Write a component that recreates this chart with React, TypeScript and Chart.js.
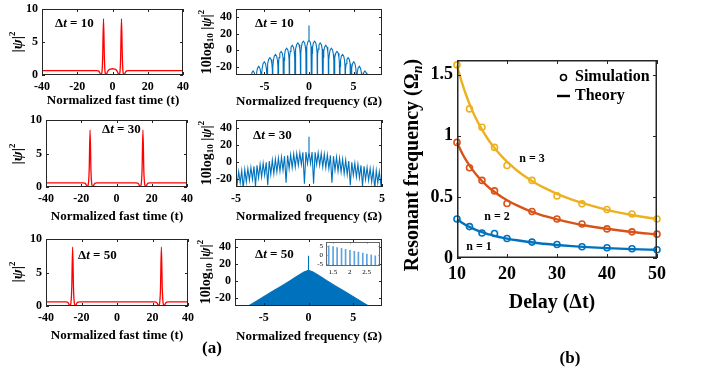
import React, { useEffect, useRef } from "react";
import { Chart, registerables } from "chart.js";

Chart.register(...registerables);

const SERIF = "'Liberation Serif', 'Times New Roman', Times, serif";
const B = (s: number) => `bold ${s}px ${SERIF}`;
const BI = (s: number) => `italic bold ${s}px ${SERIF}`;

const BLUE = "#0072BD";
const ORANGE = "#D95319";
const YELLOW = "#EDB120";
const RED = "#FF0000";
const STEM = "#5fa2dd";

// ---------- (a) time domain |psi|^2 ----------
const T10_X = [-40, -9, -8, -7.3, -6.6, -6.0, -5.6, -5.1, -4.6, -4.2, -3.6, -2.9, -2, -1, 0, 1, 2, 2.9, 3.6, 4.2, 4.6, 5.1, 5.6, 6.0, 6.6, 7.3, 8, 9, 40];
const T10_Y = [0.67, 0.67, 0.62, 0.4, 0.05, 0.4, 2.5, 8.5, 2.5, 0.4, 0.05, 0.45, 0.78, 0.9, 0.95, 0.9, 0.78, 0.45, 0.05, 0.4, 2.5, 8.5, 2.5, 0.4, 0.05, 0.4, 0.62, 0.67, 0.67];
const T30_X = [-40, -19, -18, -17.3, -16.6, -16.0, -15.5, -15, -14.5, -14.0, -13.4, -12.7, -12, -11, 11, 12, 12.7, 13.4, 14.0, 14.5, 15, 15.5, 16.0, 16.6, 17.3, 18, 19, 40];
const T30_Y = [0.62, 0.62, 0.58, 0.4, 0.05, 0.4, 2.5, 8.5, 2.5, 0.4, 0.05, 0.4, 0.58, 0.62, 0.62, 0.58, 0.4, 0.05, 0.4, 2.5, 8.5, 2.5, 0.4, 0.05, 0.4, 0.58, 0.62, 0.62];
const T50_X = [-40, -29, -28, -27.3, -26.6, -26.0, -25.5, -25, -24.5, -24.0, -23.4, -22.7, -22, -21, 21, 22, 22.7, 23.4, 24.0, 24.5, 25, 25.5, 26.0, 26.6, 27.3, 28, 29, 40];
const T50_Y = [0.62, 0.62, 0.58, 0.4, 0.05, 0.4, 2.6, 8.8, 2.6, 0.4, 0.05, 0.4, 0.58, 0.62, 0.62, 0.58, 0.4, 0.05, 0.4, 2.6, 8.8, 2.6, 0.4, 0.05, 0.4, 0.58, 0.62, 0.62];

// ---------- (a) spectra 10log10|psi|^2 ----------
const SPIKE = 30;
const STEP10 = 0.628;
const TOP10 = [12, 11, 8.8, 6, 2.5, -1.5, -5, -9, -14, -19.5, -25]; // lobe tops, k = 0..10 (mirrored)
const STEP30 = 0.2094;
const TOP30 = [12, 11.8, 11.4, 10.8, 10.1, 9.3, 8.5, 7.7, 6.8, 5.7, 4.5, 3.3, 2.1, 0.9, -0.4, -1.6, -2.9, -4.1, -5.4, -6.6, -7.9, -9.1, -10.4, -11.6, -12.9, -14.1];
const DIP30 = [-2, -26, -3, -4, -6, -7, -8, -25, -10, -11, -12, -14, -15, -28, -16, -18, -19, -29, -21, -22, -24, -32, -25, -27, -31];
const ENV50_X = [-7.5, -6.7, -6, -5, -4, -3, -2, -1.5, -1, -0.5, 0, 0, 0, 0.5, 1, 1.5, 2, 3, 4, 5, 6, 6.7, 7.5];
const ENV50_Y = [-36, -30, -25.5, -19, -12.5, -6, 0.5, 4, 7.3, 10.5, 12.8, 30, 12.8, 10.5, 7.3, 4, 0.5, -6, -12.5, -19, -25.5, -30, -36];
const STEM_X = [1.38, 1.51, 1.63, 1.76, 1.88, 2.01, 2.14, 2.26, 2.39, 2.51, 2.64, 2.76, 2.89];
const STEM_TOP = [4.9, 4.5, 4.0, 3.5, 3.0, 2.5, 2.0, 1.5, 1.0, 0.5, 0.0, -0.5, -1.0];

// ---------- (b) resonant frequency ----------
const DELAY_SIM = [10, 12.5, 15, 17.5, 20, 25, 30, 35, 40, 45, 50];
const SIM_N1 = [0.319, 0.257, 0.205, 0.2, 0.159, 0.13, 0.111, 0.092, 0.084, 0.076, 0.068];
const SIM_N2 = [0.946, 0.738, 0.635, 0.549, 0.446, 0.381, 0.319, 0.278, 0.238, 0.214, 0.195];
const SIM_N3 = [1.58, 1.22, 1.07, 0.905, 0.757, 0.635, 0.508, 0.443, 0.397, 0.36, 0.319];
const DELAY_TH = [10, 11, 12, 13, 14, 15, 16, 17, 18, 19, 20, 22, 24, 26, 28, 30, 33, 36, 40, 45, 50];
const TH_N1 = [0.316, 0.288, 0.264, 0.244, 0.226, 0.211, 0.198, 0.187, 0.176, 0.167, 0.159, 0.145, 0.133, 0.123, 0.114, 0.107, 0.097, 0.089, 0.081, 0.073, 0.067];
const TH_N2 = [0.945, 0.859, 0.788, 0.727, 0.675, 0.63, 0.591, 0.556, 0.525, 0.497, 0.473, 0.43, 0.394, 0.364, 0.338, 0.316, 0.288, 0.264, 0.239, 0.213, 0.193];
const TH_N3 = [1.575, 1.432, 1.313, 1.212, 1.125, 1.05, 0.984, 0.926, 0.875, 0.829, 0.788, 0.716, 0.656, 0.606, 0.563, 0.525, 0.478, 0.438, 0.394, 0.352, 0.318];

// ---------- helpers ----------
const xy = (xs: number[], ys: number[]) => xs.map((x, i) => ({ x, y: ys[i] }));

// lobe profile (fraction of fringe spacing -> dB below top), used to draw each fringe
const LOBE_F = [-0.5, -0.44, -0.36, -0.22, 0, 0.22, 0.36, 0.44];
const LOBE_DB = [-80, -14.5, -7.4, -2.2, 0, -2.2, -7.4, -14.5];
function lobeTable(step: number, tops: number[]) {
  const K = tops.length - 1;
  const pts: { x: number; y: number }[] = [];
  for (let k = -K; k <= K; k++) {
    const top = tops[Math.abs(k)];
    LOBE_F.forEach((f, j) => {
      pts.push({ x: (k + f) * step, y: top + LOBE_DB[j] });
      if (k === 0 && f === 0) {
        pts.push({ x: 0, y: SPIKE });
        pts.push({ x: 0, y: top });
      }
    });
  }
  pts.push({ x: (K + 0.5) * step, y: -80 });
  return pts;
}
function zigzagTable(step: number, tops: number[], dips: number[]) {
  const K = tops.length - 1;
  const pts: { x: number; y: number }[] = [];
  for (let k = -K; k <= K; k++) {
    if (k > -K) pts.push({ x: (k - 0.5) * step, y: dips[Math.min(Math.abs(k), Math.abs(k - 1))] });
    pts.push({ x: k * step, y: tops[Math.abs(k)] });
    if (k === 0) {
      pts.push({ x: 0, y: SPIKE });
      pts.push({ x: 0, y: tops[0] });
    }
  }
  return pts;
}

type Seg = { t: string; f: string; dy?: number };
type TextItem = { x: number; y: number; rot?: number; align?: "left" | "center" | "right"; segs: Seg[] };
type Axis = { min: number; max: number; ticks: number[] };
type PanelSpec = {
  box: { left: number; top: number; w: number; h: number };
  plot: { l: number; t: number; r: number; b: number };
  x: Axis;
  y: Axis;
  type?: string;
  tickFont: string;
  tickSize: number;
  tickWeight?: string;
  padX: number;
  padY: number;
  tickLen: number;
  frameWidth: number;
  frameColor: string;
  whiteBg?: boolean;
  datasets: any[];
  texts: TextItem[];
  extra?: (ctx: CanvasRenderingContext2D, ox: number, oy: number) => void;
};

function drawRich(ctx: CanvasRenderingContext2D, it: TextItem, ox: number, oy: number) {
  ctx.save();
  ctx.translate(it.x - ox, it.y - oy);
  if (it.rot) ctx.rotate((it.rot * Math.PI) / 180);
  ctx.textBaseline = "middle";
  ctx.textAlign = "left";
  ctx.fillStyle = "#000";
  let total = 0;
  for (const s of it.segs) {
    ctx.font = s.f;
    total += ctx.measureText(s.t).width;
  }
  let x = it.align === "left" ? 0 : it.align === "right" ? -total : -total / 2;
  for (const s of it.segs) {
    ctx.font = s.f;
    ctx.fillText(s.t, x, s.dy || 0);
    x += ctx.measureText(s.t).width;
  }
  ctx.restore();
}

function buildConfig(p: PanelSpec) {
  const { box, plot } = p;
  const axis = (ax: Axis, isX: boolean) => ({
    type: "linear",
    min: ax.min,
    max: ax.max,
    offset: false,
    grid: { display: false, drawTicks: false },
    border: { display: false },
    ticks: {
      color: "#000",
      font: { family: SERIF, weight: p.tickWeight || "bold", size: p.tickSize },
      padding: isX ? p.padX : p.padY,
      maxRotation: 0,
      minRotation: 0,
      autoSkip: false,
      callback: (v: any) => String(+(+v).toFixed(3)),
    },
    afterBuildTicks: (s: any) => {
      s.ticks = ax.ticks.map((v) => ({ value: v }));
    },
    afterFit: (s: any) => {
      if (isX) {
        s.height = box.top + box.h - plot.b;
        s.paddingLeft = 0;
        s.paddingRight = 0;
      } else {
        s.width = plot.l - box.left;
        s.paddingTop = 0;
        s.paddingBottom = 0;
      }
    },
  });
  const deco = {
    id: "deco",
    beforeDatasetsDraw(chart: any) {
      if (!p.whiteBg) return;
      const a = chart.chartArea;
      const ctx = chart.ctx;
      ctx.save();
      ctx.fillStyle = "#fff";
      ctx.fillRect(a.left, a.top, a.right - a.left, a.bottom - a.top);
      ctx.restore();
    },
    afterDatasetsDraw(chart: any) {
      const { ctx, chartArea: a, scales } = chart;
      const L = p.tickLen;
      ctx.save();
      ctx.strokeStyle = p.frameColor;
      ctx.lineWidth = 1;
      ctx.beginPath();
      for (const v of p.x.ticks) {
        const px = Math.round(scales.x.getPixelForValue(v)) + 0.5;
        ctx.moveTo(px, a.bottom);
        ctx.lineTo(px, a.bottom - L);
        ctx.moveTo(px, a.top);
        ctx.lineTo(px, a.top + L);
      }
      for (const v of p.y.ticks) {
        const py = Math.round(scales.y.getPixelForValue(v)) + 0.5;
        ctx.moveTo(a.left, py);
        ctx.lineTo(a.left + L, py);
        ctx.moveTo(a.right, py);
        ctx.lineTo(a.right - L, py);
      }
      ctx.stroke();
      ctx.lineWidth = p.frameWidth;
      const o = p.frameWidth / 2;
      ctx.strokeRect(a.left + o, a.top + o, a.right - a.left - 2 * o, a.bottom - a.top - 2 * o);
      ctx.restore();
    },
    afterDraw(chart: any) {
      const ctx = chart.ctx;
      for (const t of p.texts) drawRich(ctx, t, box.left, box.top);
      if (p.extra) p.extra(ctx, box.left, box.top);
    },
  };
  return {
    type: p.type || "line",
    data: { datasets: p.datasets },
    options: {
      responsive: false,
      animation: false,
      devicePixelRatio: 1,
      events: [],
      layout: { padding: { left: 0, top: plot.t - box.top, right: box.left + box.w - plot.r, bottom: 0 } },
      plugins: { legend: { display: false }, tooltip: { enabled: false } },
      scales: { x: axis(p.x, true), y: axis(p.y, false) },
    },
    plugins: [deco],
  } as any;
}

function Panel({ spec }: { spec: PanelSpec }) {
  const ref = useRef<HTMLCanvasElement>(null);
  useEffect(() => {
    const chart = new Chart(ref.current as HTMLCanvasElement, buildConfig(spec));
    return () => chart.destroy();
  }, []);
  const { box } = spec;
  return (
    <canvas
      ref={ref}
      width={box.w}
      height={box.h}
      style={{ position: "absolute", left: box.left, top: box.top, width: box.w, height: box.h }}
    />
  );
}

// ---------- panel specs ----------
const redLine = (xs: number[], ys: number[]) => ({
  data: xy(xs, ys),
  borderColor: RED,
  borderWidth: 1.3,
  pointRadius: 0,
  cubicInterpolationMode: "monotone",
  fill: false,
});
const blueLine = (pts: any[]) => ({
  data: pts,
  borderColor: BLUE,
  borderWidth: 1.1,
  pointRadius: 0,
  tension: 0,
  fill: false,
});

const psiTitle = (x: number, y: number): TextItem => ({
  x, y, rot: -90,
  segs: [{ t: "|", f: B(15) }, { t: "ψ", f: BI(15) }, { t: "|", f: B(15) }, { t: "2", f: B(9), dy: -5 }],
});
const dbTitle = (x: number, y: number): TextItem => ({
  x, y, rot: -90,
  segs: [
    { t: "10log", f: B(14) },
    { t: "10", f: B(9), dy: 4 },
    { t: " |", f: B(14) },
    { t: "ψ", f: BI(14) },
    { t: "|", f: B(14) },
    { t: "2", f: B(9), dy: -5 },
  ],
});
const dtLabel = (x: number, y: number, v: string): TextItem => ({
  x, y, align: "left",
  segs: [{ t: "Δ", f: B(13) }, { t: "t", f: BI(13) }, { t: " = " + v, f: B(13) }],
});
const timeTitle = (x: number, y: number): TextItem => ({ x, y, segs: [{ t: "Normalized fast time (t)", f: B(13) }] });
const freqTitle = (x: number, y: number): TextItem => ({ x, y, segs: [{ t: "Normalized frequency (Ω)", f: B(13) }] });

const common = {
  tickFont: SERIF,
  tickSize: 12,
  padX: 5,
  padY: 4,
  tickLen: 3,
  frameWidth: 1,
  frameColor: "#262626",
};
const TIME_X: Axis = { min: -40, max: 40, ticks: [-40, -20, 0, 20, 40] };
const TIME_Y: Axis = { min: 0, max: 10, ticks: [0, 5, 10] };
const DB_Y: Axis = { min: -30, max: 50, ticks: [-20, 0, 20, 40] };

const L1: PanelSpec = {
  ...common,
  box: { left: 0, top: 0, w: 200, h: 112 },
  plot: { l: 42, t: 9, r: 183, b: 75 },
  x: TIME_X, y: TIME_Y,
  datasets: [redLine(T10_X, T10_Y)],
  texts: [psiTitle(18, 42), timeTitle(113, 101), dtLabel(55, 24, "10")],
};
const R1: PanelSpec = {
  ...common,
  box: { left: 196, top: 0, w: 204, h: 112 },
  plot: { l: 236, t: 9, r: 382, b: 75 },
  x: { min: -8.2, max: 8.2, ticks: [-5, 0, 5] }, y: DB_Y,
  datasets: [blueLine(lobeTable(STEP10, TOP10))],
  texts: [dbTitle(207, 42), freqTitle(309, 102), dtLabel(255, 24, "10")],
};
const L2: PanelSpec = {
  ...common,
  box: { left: 0, top: 110, w: 200, h: 116 },
  plot: { l: 46, t: 120, r: 187, b: 187 },
  x: TIME_X, y: TIME_Y,
  datasets: [redLine(T30_X, T30_Y)],
  texts: [psiTitle(18, 154), timeTitle(117, 217), dtLabel(102, 130, "30")],
};
const R2: PanelSpec = {
  ...common,
  box: { left: 196, top: 110, w: 204, h: 116 },
  plot: { l: 236, t: 120, r: 382, b: 187 },
  x: { min: -5, max: 5, ticks: [-5, 0, 5] }, y: DB_Y,
  datasets: [blueLine(zigzagTable(STEP30, TOP30, DIP30))],
  texts: [dbTitle(207, 153), freqTitle(309, 217), dtLabel(253, 136, "30")],
};
const L3: PanelSpec = {
  ...common,
  box: { left: 0, top: 229, w: 200, h: 116 },
  plot: { l: 46, t: 239, r: 188, b: 306 },
  x: TIME_X, y: TIME_Y,
  datasets: [redLine(T50_X, T50_Y)],
  texts: [psiTitle(18, 272), timeTitle(117, 336), dtLabel(78, 256, "50")],
};
const R3: PanelSpec = {
  ...common,
  box: { left: 196, top: 229, w: 204, h: 142 },
  plot: { l: 235, t: 239, r: 382, b: 306 },
  x: { min: -8.2, max: 8.2, ticks: [-5, 0, 5] }, y: DB_Y,
  datasets: [
    {
      data: xy(ENV50_X, ENV50_Y),
      borderColor: BLUE,
      backgroundColor: BLUE,
      borderWidth: 1.1,
      pointRadius: 0,
      tension: 0,
      fill: "start",
    },
  ],
  texts: [
    dbTitle(206, 272),
    freqTitle(309, 337),
    dtLabel(255, 255, "50"),
    { x: 212, y: 349, segs: [{ t: "(a)", f: B(17) }] },
  ],
};
const INSET: PanelSpec = {
  tickFont: SERIF,
  tickSize: 7,
  tickWeight: "normal",
  padX: 2,
  padY: 3,
  tickLen: 1.5,
  frameWidth: 1,
  frameColor: "#666",
  whiteBg: true,
  type: "bar",
  box: { left: 300, top: 236, w: 85, h: 44 },
  plot: { l: 326, t: 242, r: 380, b: 266 },
  x: { min: 1.3, max: 2.9, ticks: [1.5, 2, 2.5] },
  y: { min: -6, max: 7, ticks: [-5, 0, 5] },
  datasets: [
    {
      data: STEM_X.map((x, i) => ({ x, y: [-6, STEM_TOP[i]] })),
      backgroundColor: STEM,
      borderWidth: 0,
      barThickness: 1,
    },
  ],
  texts: [],
};

const sim = (ys: number[], c: string) => ({
  data: xy(DELAY_SIM, ys),
  borderColor: c,
  backgroundColor: "rgba(0,0,0,0)",
  showLine: false,
  pointRadius: 3,
  pointBorderWidth: 1.6,
  pointStyle: "circle",
  clip: false,
});
const theory = (ys: number[], c: string) => ({
  data: xy(DELAY_TH, ys),
  borderColor: c,
  borderWidth: 2.4,
  pointRadius: 0,
  cubicInterpolationMode: "monotone",
  fill: false,
  clip: false,
});

const PB: PanelSpec = {
  tickFont: SERIF,
  tickSize: 18,
  padX: 6,
  padY: 4,
  tickLen: 4,
  frameWidth: 1.5,
  frameColor: "#262626",
  box: { left: 400, top: 40, w: 304, h: 331 },
  plot: { l: 457, t: 60, r: 657, b: 258 },
  x: { min: 10, max: 50, ticks: [10, 20, 30, 40, 50] },
  y: { min: 0, max: 1.62, ticks: [0, 0.5, 1, 1.5] },
  datasets: [
    sim(SIM_N3, YELLOW),
    sim(SIM_N2, ORANGE),
    sim(SIM_N1, BLUE),
    theory(TH_N3, YELLOW),
    theory(TH_N2, ORANGE),
    theory(TH_N1, BLUE),
  ],
  texts: [
    {
      x: 413, y: 165, rot: -90,
      segs: [{ t: "Resonant frequency (Ω", f: B(20) }, { t: "n", f: BI(14), dy: 5 }, { t: ")", f: B(20) }],
    },
    { x: 552, y: 303, segs: [{ t: "Delay (Δt)", f: B(20) }] },
    { x: 575, y: 77, align: "left", segs: [{ t: "Simulation", f: B(16) }] },
    { x: 575, y: 96, align: "left", segs: [{ t: "Theory", f: B(16) }] },
    { x: 532, y: 159, segs: [{ t: "n = 3", f: B(12) }] },
    { x: 497, y: 217, segs: [{ t: "n = 2", f: B(12) }] },
    { x: 479, y: 247, segs: [{ t: "n = 1", f: B(12) }] },
    { x: 570, y: 359, segs: [{ t: "(b)", f: B(17) }] },
  ],
  extra: (ctx, ox, oy) => {
    ctx.save();
    ctx.strokeStyle = "#000";
    ctx.lineWidth = 1.6;
    ctx.beginPath();
    ctx.arc(563.5 - ox, 77.5 - oy, 3, 0, Math.PI * 2);
    ctx.stroke();
    ctx.lineWidth = 2.4;
    ctx.beginPath();
    ctx.moveTo(557 - ox, 96 - oy);
    ctx.lineTo(570 - ox, 96 - oy);
    ctx.stroke();
    ctx.restore();
  },
};

const PANELS = [L1, R1, L2, R2, L3, R3, INSET, PB];

export default function App() {
  return (
    <div style={{ position: "absolute", left: 0, top: 0, width: 704, height: 371, background: "#fff", overflow: "hidden" }}>
      {PANELS.map((p, i) => (
        <Panel key={i} spec={p} />
      ))}
    </div>
  );
}
